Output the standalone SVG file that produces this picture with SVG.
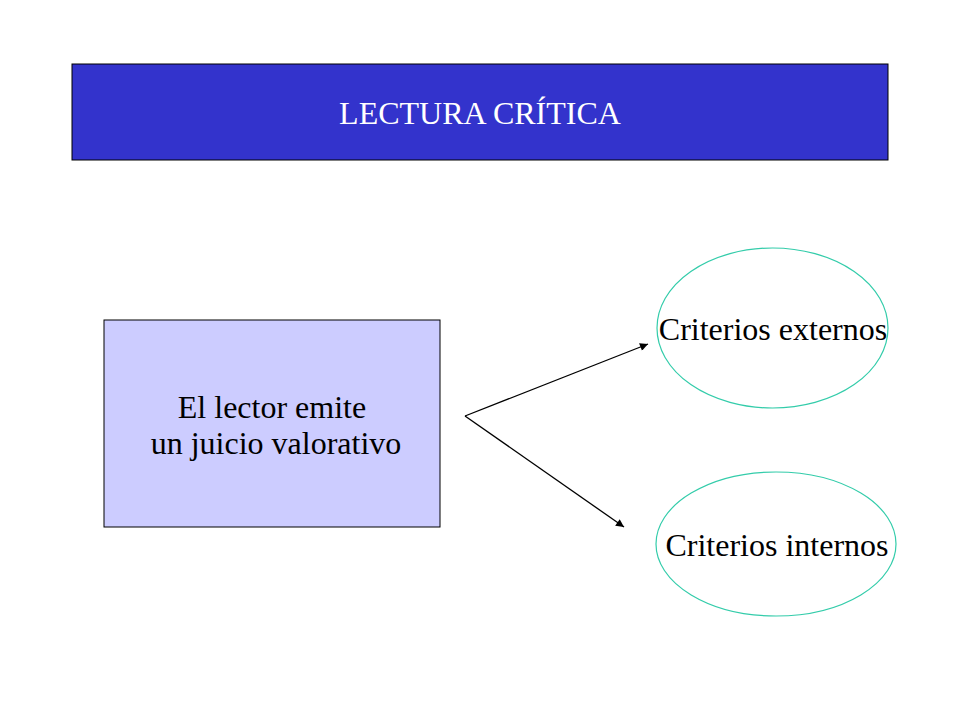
<svg xmlns="http://www.w3.org/2000/svg" width="960" height="720" viewBox="0 0 960 720">
<style>
text{font-family:"Liberation Serif","Times New Roman",serif;font-size:32px;fill:#000;text-anchor:middle}
.ell{fill:none;stroke:#33CCAA;stroke-width:1.2}
.con{stroke:#000;stroke-width:1.3;fill:none;marker-end:url(#ah)}
</style>
<defs>
<marker id="ah" viewBox="0 0 10 10" refX="10" refY="5" markerWidth="10" markerHeight="8" markerUnits="userSpaceOnUse" orient="auto">
<path d="M0,0 L10,5 L0,10 z" fill="#000"/>
</marker>
</defs>
<rect width="960" height="720" fill="#fff"/>
<g id="title">
<rect x="72" y="64" width="816" height="96" fill="#3333CC" stroke="#000" stroke-width="1"/>
<text x="480" y="124" style="fill:#fff">LECTURA CRÍTICA</text>
</g>
<g id="juicio">
<rect x="104" y="320" width="336" height="207" fill="#CCCCFF" stroke="#000" stroke-width="1"/>
<text x="272" y="418">El lector emite</text>
<text x="276" y="454"> un juicio valorativo</text>
</g>
<g id="externos">
<ellipse class="ell" cx="772.500" cy="328" rx="115.500" ry="80"/>
<text x="773" y="340">Criterios externos</text>
</g>
<g id="internos">
<ellipse class="ell" cx="776" cy="544" rx="120" ry="72"/>
<text x="777" y="556">Criterios internos</text>
</g>
<g id="connectors">
<path class="con" d="M465,416 L648,344"/>
<path class="con" d="M465,416 L624,527"/>
</g>
</svg>
